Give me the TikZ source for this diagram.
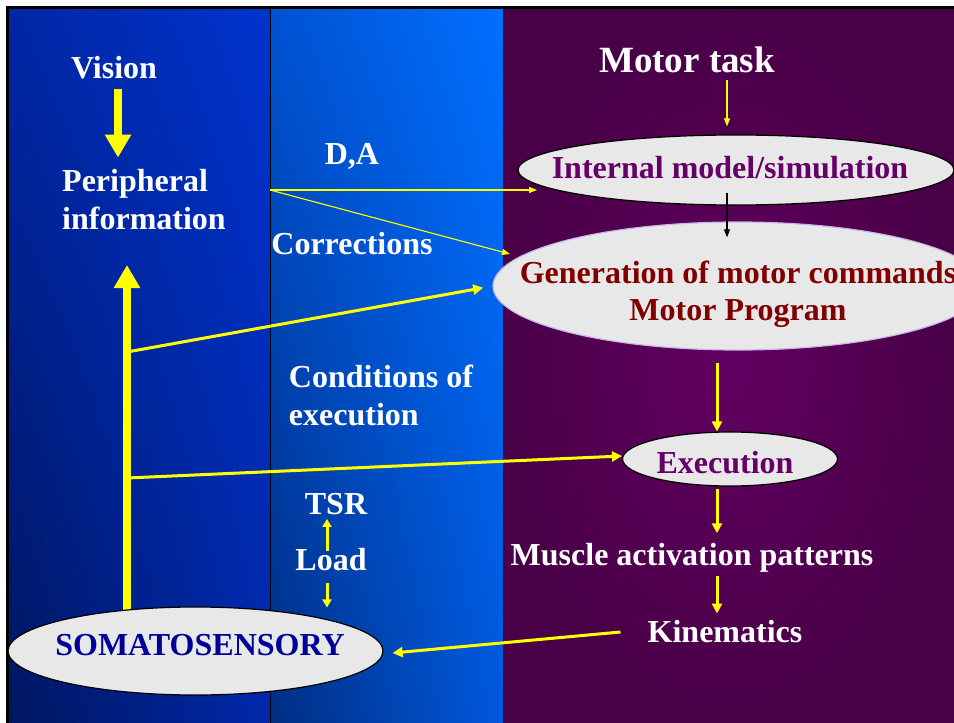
\documentclass[tikz,border=0pt]{standalone}
\usepackage{fontspec}
\setmainfont{Liberation Serif}
\usetikzlibrary{arrows.meta,shapes.geometric,shadings}
\definecolor{lefttl}{RGB}{0,38,165}
\definecolor{lefttr}{RGB}{0,52,205}
\definecolor{leftbl}{RGB}{0,22,95}
\definecolor{leftbr}{RGB}{0,40,170}
\definecolor{midtl}{RGB}{0,82,210}
\definecolor{midtr}{RGB}{0,112,255}
\definecolor{midbl}{RGB}{0,45,130}
\definecolor{midbr}{RGB}{0,88,220}
\definecolor{plumin}{RGB}{98,0,98}
\definecolor{plumout}{RGB}{72,0,70}
\definecolor{cloud}{RGB}{232,232,232}
\definecolor{plum}{RGB}{102,0,102}
\definecolor{maroon}{RGB}{128,0,0}
\definecolor{navy}{RGB}{0,0,153}
\definecolor{lilac}{RGB}{200,180,230}
\definecolor{flash}{RGB}{255,255,0}
\begin{document}
\begin{tikzpicture}[x=1pt,y=-1pt,
    lbl/.style={text=white,font=\fontsize{32}{38}\selectfont\bfseries,inner sep=0pt,align=left},
    blob/.style={ellipse,draw=black,line width=1.2pt,fill=cloud,inner sep=0pt},
    blobtext/.style={font=\fontsize{32}{37}\selectfont\bfseries,inner sep=0pt,align=center},
    heavyarrow/.style={draw=flash,line width=8.5pt,-{Triangle[width=25pt,length=23pt]}},
    midarrow/.style={draw=flash,line width=3pt,-{Triangle[width=10pt,length=10pt]}},
    tinyarrow/.style={draw=flash,line width=3pt,-{Triangle[width=9pt,length=8pt]}},
    slimarrow/.style={draw=flash,line width=1.1pt,-{Triangle[width=6pt,length=8pt]}}]
  \useasboundingbox (0,0) rectangle (954,723);
  \clip (0,0) rectangle (954,723);
  \fill[white] (0,0) rectangle (954,723);
  % three panels
  \shade[upper left=lefttl,upper right=lefttr,lower left=leftbl,lower right=leftbr] (8,8) rectangle (270,723);
  \shade[upper left=midtl,upper right=midtr,lower left=midbl,lower right=midbr] (270,8) rectangle (503,723);
  \shade[inner color=plumin,outer color=plumout] (503,8) rectangle (954,723);
  \draw[line width=0.8pt] (270,8) -- (270,723);
  \draw[line width=3pt] (7.5,723) -- (7.5,7.5) -- (954,7.5);

  % labels
  \node[lbl,font=\fontsize{37}{44}\selectfont\bfseries] (task) at (687,60) {Motor task};
  \node[lbl] (vision) at (114,68) {Vision};
  \node[lbl] (periph) at (144,200) {Peripheral\\information};
  \node[lbl] (da) at (352,156) {D,A};
  \node[lbl] (corr) at (352,244) {Corrections};
  \node[lbl] (cond) at (381,395) {Conditions of\\execution};
  \node[lbl] (tsr) at (336,504) {TSR};
  \node[lbl] (load) at (331,560) {Load};
  \node[lbl] (muscle) at (692,558) {Muscle activation patterns};
  \node[lbl] (kin) at (725,632) {Kinematics};

  % connectors
  \coordinate (j1) at (127,352);
  \coordinate (j2) at (127,478);
  \coordinate (jtop) at (127,265);
  \coordinate (fork) at (270,190);
  \draw[heavyarrow] ([xshift=4pt,yshift=-9pt]vision.south) -- ([xshift=-26pt,yshift=12pt]periph.north);
  \draw[heavyarrow] (127,610) -- (jtop);
  \draw[midarrow,shorten >=10pt] (j1) -- (738-245,286);
  \draw[midarrow] (j2) -- (622,456);
  \draw[slimarrow] (fork) -- (537,190);
  \draw[slimarrow] (fork) -- (510,254);

  % ellipses
  \node[blob,minimum width=436pt,minimum height=70pt] (intern) at (736,170) {};
  \node[blobtext,text=plum] at (730,168) {Internal model/simulation};
  \node[blob,draw=lilac,minimum width=490pt,minimum height=128pt] (gen) at (738,286) {};
  \node[blobtext,text=maroon] at (738,294) {Generation of motor commands\\Motor Program};
  \node[blob,minimum width=215pt,minimum height=54pt] (exec) at (730,459) {};
  \node[blobtext,text=plum] at (725,463) {Execution};
  \node[blob,minimum width=375pt,minimum height=88pt] (soma) at (195.5,651) {};
  \node[blobtext,text=navy] at (200,645) {SOMATOSENSORY};

  \draw[slimarrow] ([xshift=40pt,yshift=-7pt]task.south) -- ([xshift=-9pt,yshift=8pt]intern.north);
  \draw[slimarrow,draw=black] ([xshift=-9pt,yshift=13pt]intern.south) -- ([xshift=-11pt,yshift=-16pt]gen.north);
  \draw[midarrow] ([xshift=-21pt,yshift=-12pt]gen.south) -- ([xshift=-13pt]exec.north);
  \draw[midarrow] ([xshift=-13pt,yshift=-2pt]exec.south) -- ([xshift=25pt,yshift=10pt]muscle.north);
  \draw[midarrow] ([xshift=25pt,yshift=-3pt]muscle.south) -- ([xshift=-8pt,yshift=7pt]kin.north);
  \draw[midarrow] ([xshift=-27pt]kin.west) -- ([xshift=9pt,yshift=-2pt]soma.east);
  \draw[tinyarrow] ([xshift=-4pt,yshift=-2pt]load.north) -- ([xshift=-9pt,yshift=-4pt]tsr.south);
  \draw[tinyarrow] ([xshift=-4pt,yshift=-12pt]load.south) -- ([xshift=-4pt,yshift=-36pt]load.south);
\end{tikzpicture}
\end{document}
